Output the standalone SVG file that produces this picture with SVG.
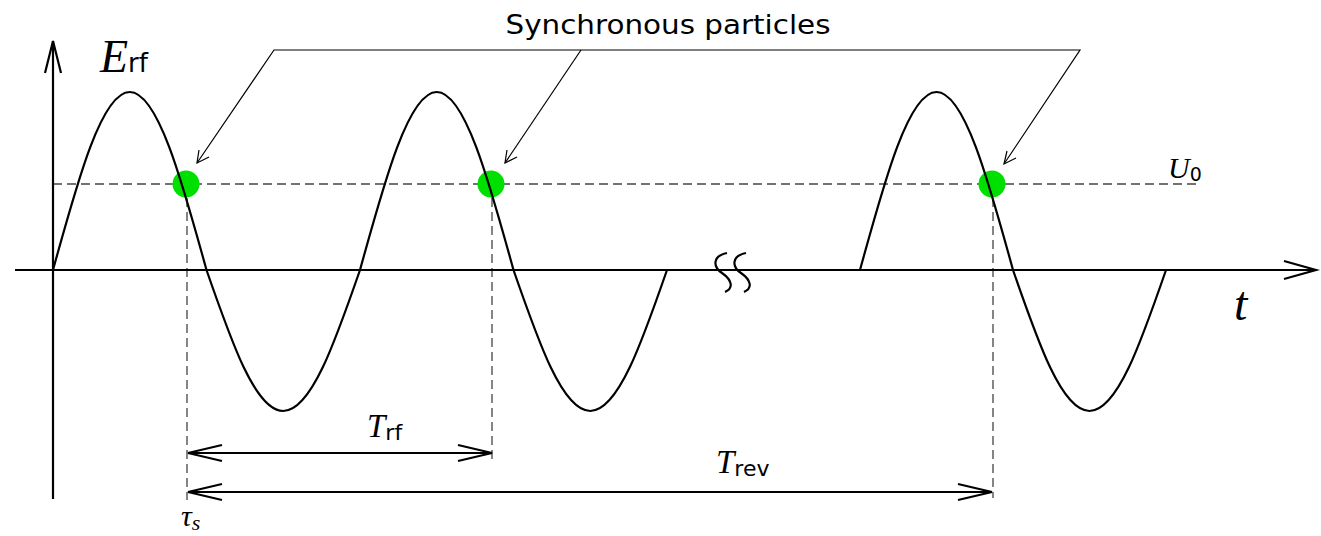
<svg xmlns="http://www.w3.org/2000/svg" width="1321" height="536" viewBox="0 0 1321 536">
<style>
.dash{stroke:#444;stroke-width:1.3;stroke-dasharray:9 5;fill:none}
.wave{stroke:#000;stroke-width:2.2;fill:none}
.axis{stroke:#000;stroke-width:2.2;fill:none}
.dim{stroke:#000;stroke-width:2;fill:none}
.ptr{stroke:#000;stroke-width:1.2;fill:none}
.dot{fill:#00e000}
.it{font-family:"Liberation Serif","DejaVu Serif",serif;font-style:italic}
.sf{font-family:"DejaVu Sans","Liberation Sans",sans-serif}
</style>
<rect width="1321" height="536" fill="#fff"/>
<g id="guides">
<line class="dash" x1="53" y1="184" x2="1196" y2="184"/>
<line class="dash" x1="187" y1="184" x2="187" y2="500"/>
<line class="dash" x1="492" y1="184" x2="492" y2="462"/>
<line class="dash" x1="993" y1="184" x2="993" y2="498"/>
</g>
<g id="particles">
<circle class="dot" cx="186" cy="184" r="13.5"/>
<circle class="dot" cx="491" cy="184" r="13.5"/>
<circle class="dot" cx="992" cy="184" r="13.5"/>
</g>
<g id="axes">
<line class="axis" x1="53" y1="499" x2="53" y2="41"/>
<polyline class="axis" points="45,73 53,41 61,73"/>
<line class="axis" x1="15" y1="270" x2="1315" y2="270"/>
<polyline class="axis" points="1284,261 1316,270 1284,279"/>
<path class="axis" d="M727 253 C712 256,713 267,722 273 C732 280,734 288,725 292"/>
<path class="axis" d="M746 253 C731 256,732 267,741 273 C751 280,753 288,744 292"/>
</g>
<g id="waves">
<path class="wave" d="M53 270 C78.03 178.81,101.97 92,129.75 92 C157.53 92,181.47 178.81,206.5 270 C231.53 342.23,255.47 411,283.25 411 C311.03 411,334.97 342.23,360 270 C385.03 178.81,408.97 92,436.75 92 C464.53 92,488.47 178.81,513.5 270 C538.53 342.23,562.47 411,590.25 411 C618.03 411,641.97 342.23,667 270"/>
<path class="wave" d="M860 270 C884.95 178.81,908.81 92,936.5 92 C964.19 92,988.05 178.81,1013 270 C1037.95 342.23,1061.81 411,1089.5 411 C1117.19 411,1141.05 342.23,1166 270"/>
</g>
<g id="connectors">
<polyline class="ptr" points="197,163 274,50 1080,50 1004,164"/>
<line class="ptr" x1="581" y1="50" x2="505" y2="163"/>
<polyline class="ptr" points="199,150 197,163 209,157"/>
<polyline class="ptr" points="507,150 505,163 517,157"/>
<polyline class="ptr" points="1007,151 1004,164 1016,158"/>
<line class="dim" x1="188" y1="453" x2="492" y2="453"/>
<polyline class="dim" points="222,445 188,453 222,461"/>
<polyline class="dim" points="458,445 492,453 458,461"/>
<line class="dim" x1="188" y1="492" x2="992" y2="492"/>
<polyline class="dim" points="222,484 188,492 222,500"/>
<polyline class="dim" points="958,484 992,492 958,500"/>
</g>
<g id="labels">
<text class="sf" x="668" y="34" font-size="26" text-anchor="middle" textLength="325" lengthAdjust="spacingAndGlyphs">Synchronous particles</text>
<text x="100" y="72" style="font-size:46px"><tspan class="it">E</tspan><tspan class="sf" style="font-size:26px">rf</tspan></text>
<text x="1168" y="178" style="font-size:30px"><tspan class="it">U</tspan><tspan class="sf" style="font-size:19px" dy="3">0</tspan></text>
<text class="it" x="1234" y="320" style="font-size:48px">t</text>
<text x="367" y="437" style="font-size:33px"><tspan class="it">T</tspan><tspan class="sf" style="font-size:22px" dy="3">rf</tspan></text>
<text x="716" y="473" style="font-size:33px"><tspan class="it">T</tspan><tspan class="sf" style="font-size:22px" dy="3">rev</tspan></text>
<text x="181" y="526" style="font-size:30px"><tspan class="it" style="font-size:30px">τ</tspan><tspan class="it" style="font-size:22px" dy="4">s</tspan></text>
</g>
</svg>
